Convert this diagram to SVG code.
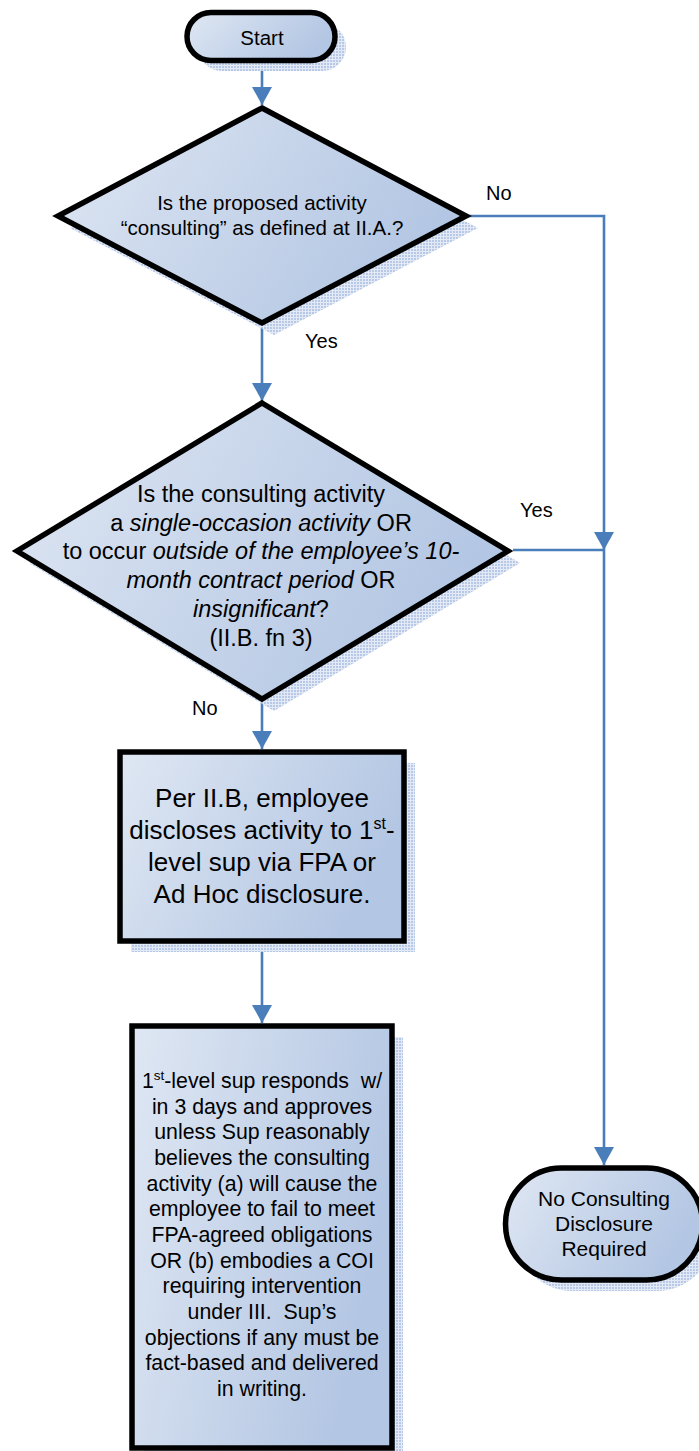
<svg xmlns="http://www.w3.org/2000/svg" width="699" height="1451" viewBox="0 0 699 1451">
<style>
.t{font-family:"Liberation Sans",Arial,sans-serif;fill:#000;text-anchor:middle}
.lbl{font-family:"Liberation Sans",Arial,sans-serif;fill:#000;font-size:20px}
.shape{fill:url(#grad);stroke:#000;stroke-width:5.5;stroke-linejoin:miter}
.shadow{fill:url(#dots);stroke:none}
.conn{fill:none;stroke:#4A7EBB;stroke-width:2.6}
.it{font-style:italic}
</style>
<defs>
<linearGradient id="grad" x1="0" y1="0" x2="1" y2="0.35">
<stop offset="0" stop-color="#dfe7f3"/>
<stop offset="1" stop-color="#b3c6e3"/>
</linearGradient>
<pattern id="dots" width="3" height="3" patternUnits="userSpaceOnUse">
<rect width="3" height="3" fill="#e3eaf5"/>
<rect width="2" height="2" fill="#b7c9e6"/>
</pattern>
<marker id="arr" markerUnits="userSpaceOnUse" markerWidth="20" markerHeight="20" refX="18" refY="10" orient="auto">
<path d="M0,0 L18,10 L0,20 z" fill="#4A7EBB"/>
</marker>
</defs>

<g id="connectors">
<path class="conn" d="M262,60 V105" marker-end="url(#arr)"/>
<path class="conn" d="M262,325 V401" marker-end="url(#arr)"/>
<path class="conn" d="M262,702 V749" marker-end="url(#arr)"/>
<path class="conn" d="M262,944 V1023" marker-end="url(#arr)"/>
<path class="conn" d="M468,216 H604 V550" marker-end="url(#arr)"/>
<path class="conn" d="M513,550 H604"/>
<path class="conn" d="M604,550 V1165" marker-end="url(#arr)"/>
</g>

<g id="start">
<rect class="shadow" x="198" y="23" width="148" height="48" rx="24"/>
<rect class="shape" x="187" y="12.5" width="148" height="48" rx="24"/>
<text class="t" x="262" y="45" font-size="20.5">Start</text>
</g>

<g id="decision1">
<polygon class="shadow" points="274,120 478,228 274,335 70,228"/>
<polygon class="shape" points="262,108 466,216 262,323 58,216"/>
<text class="t" font-size="20.5"><tspan x="262" y="210">Is the proposed activity</tspan><tspan x="262" y="235">“consulting” as defined at II.A.?</tspan></text>
</g>

<g id="decision2">
<polygon class="shadow" points="274,415 520,563 274,711 29,563"/>
<polygon class="shape" points="262,403 508,551 262,699 17,551"/>
<text class="t" font-size="23.5"><tspan x="261" y="502">Is the consulting activity</tspan><tspan x="261" y="530.7">a <tspan class="it">single-occasion activity</tspan> OR</tspan><tspan x="261" y="559.4">to occur <tspan class="it">outside of the employee’s 10-</tspan></tspan><tspan x="261" y="588.1"><tspan class="it">month contract period</tspan> OR</tspan><tspan x="261" y="616.8"><tspan class="it">insignificant</tspan>?</tspan><tspan x="261" y="645.5">(II.B. fn 3)</tspan></text>
</g>

<g id="process1">
<rect class="shadow" x="131" y="763" width="284" height="189"/>
<rect class="shape" x="120" y="752" width="284" height="189"/>
<text class="t" font-size="26"><tspan x="262" y="807">Per II.B, employee</tspan><tspan x="262" y="839">discloses activity to 1<tspan font-size="16" dy="-10">st</tspan><tspan dy="10">-</tspan></tspan><tspan x="262" y="871">level sup via FPA or</tspan><tspan x="262" y="903">Ad Hoc disclosure.</tspan></text>
</g>

<g id="process2">
<rect class="shadow" x="143" y="1037" width="260" height="422"/>
<rect class="shape" x="132" y="1026" width="260" height="422"/>
<text class="t" font-size="21.3" xml:space="preserve"><tspan x="262" y="1088">1<tspan font-size="13.5" dy="-8">st</tspan><tspan dy="8">-level sup responds  w/</tspan></tspan><tspan x="262" y="1113.7">in 3 days and approves</tspan><tspan x="262" y="1139.3">unless Sup reasonably</tspan><tspan x="262" y="1165">believes the consulting</tspan><tspan x="262" y="1190.7">activity (a) will cause the</tspan><tspan x="262" y="1216.3">employee to fail to meet</tspan><tspan x="262" y="1242">FPA-agreed obligations</tspan><tspan x="262" y="1267.7">OR (b) embodies a COI</tspan><tspan x="262" y="1293.3">requiring intervention</tspan><tspan x="262" y="1319">under III.  Sup’s</tspan><tspan x="262" y="1344.7">objections if any must be</tspan><tspan x="262" y="1370.3">fact-based and delivered</tspan><tspan x="262" y="1396">in writing.</tspan></text>
</g>

<g id="end">
<rect class="shadow" x="516" y="1179" width="197" height="112" rx="56"/>
<rect class="shape" x="505.5" y="1168" width="197" height="112" rx="56"/>
<text class="t" font-size="21"><tspan x="604" y="1206">No Consulting</tspan><tspan x="604" y="1231">Disclosure</tspan><tspan x="604" y="1256">Required</tspan></text>
</g>

<g id="labels">
<text class="lbl" x="486" y="200">No</text>
<text class="lbl" x="305" y="348">Yes</text>
<text class="lbl" x="520" y="517">Yes</text>
<text class="lbl" x="192" y="715">No</text>
</g>
</svg>
